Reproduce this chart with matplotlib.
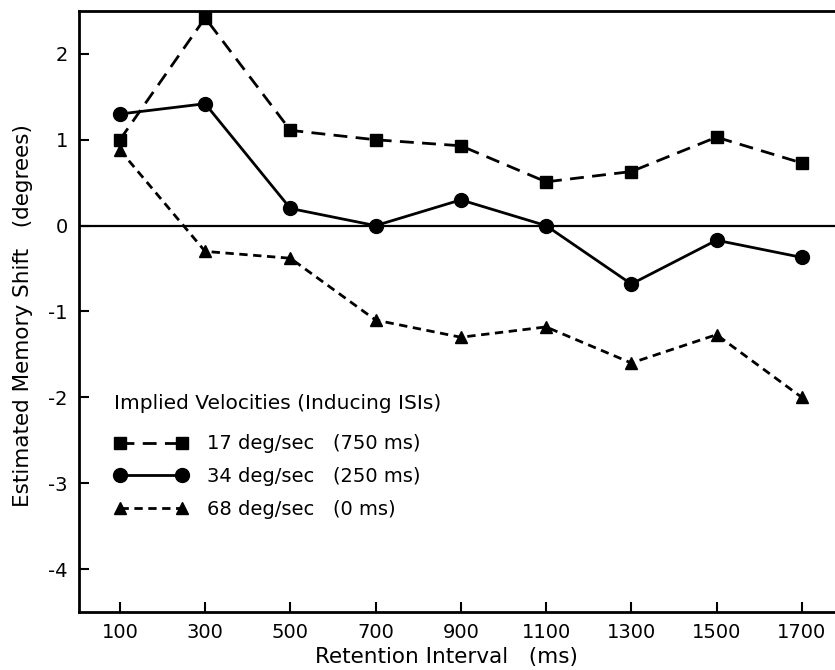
import matplotlib.pyplot as plt

intervals = [100, 300, 500, 700, 900, 1100, 1300, 1500, 1700]

shift_17 = [1.0, 2.42, 1.11, 1.0, 0.93, 0.51, 0.63, 1.03, 0.73]
shift_34 = [1.3, 1.42, 0.2, 0.0, 0.3, 0.0, -0.68, -0.17, -0.37]
shift_68 = [0.88, -0.3, -0.38, -1.1, -1.3, -1.18, -1.6, -1.27, -2.0]

labels = ["17 deg/sec   (750 ms)", "34 deg/sec   (250 ms)", "68 deg/sec   (0 ms)"]
yticks = [-4, -3, -2, -1, 0, 1, 2]

plt.rcParams['font.family'] = ['DejaVu Sans']

fig = plt.figure(figsize=(8.35, 6.7), dpi=100)
ax = fig.add_axes([0.0946, 0.0866, 0.9054, 0.897])

ax.axhline(0, color="black", lw=1.6, zorder=1)

ax.plot(intervals, shift_17, color="black", lw=2, ls=(0, (5, 3)),
        marker="s", ms=9, label=labels[0])
ax.plot(intervals, shift_34, color="black", lw=2, ls="-",
        marker="o", ms=10, label=labels[1])
ax.plot(intervals, shift_68, color="black", lw=2, ls=(0, (3, 2)),
        marker="^", ms=9, label=labels[2])

ax.set_xlim(4, 1778)
ax.set_ylim(-4.5, 2.5)
ax.set_xticks(intervals)
ax.set_yticks(yticks)
ax.set_yticklabels([str(v) for v in yticks])
ax.tick_params(direction="in", length=7, width=1.5, labelsize=14, pad=8)

ax.spines["right"].set_visible(False)
for s in ["left", "bottom", "top"]:
    ax.spines[s].set_linewidth(2)

# axis titles placed by hand
fig.text(446 / 835, 1 - 657 / 670, "Retention Interval   (ms)", fontsize=15.5,
         ha="center", va="center")
fig.text(23 / 835, 1 - 316 / 670, "Estimated Memory Shift   (degrees)",
         fontsize=15.5, rotation=90, ha="center", va="center")

leg = ax.legend(title="Implied Velocities (Inducing ISIs)", frameon=False,
                loc="upper left", bbox_to_anchor=(0.023, 0.391), fontsize=14,
                title_fontsize=14.5, numpoints=2, handlelength=3.8,
                handletextpad=1.0, labelspacing=0.7, alignment="left")
leg._legend_box.sep = 15  # a bit more room under the legend title

fig.savefig("out.png", dpi=100)
